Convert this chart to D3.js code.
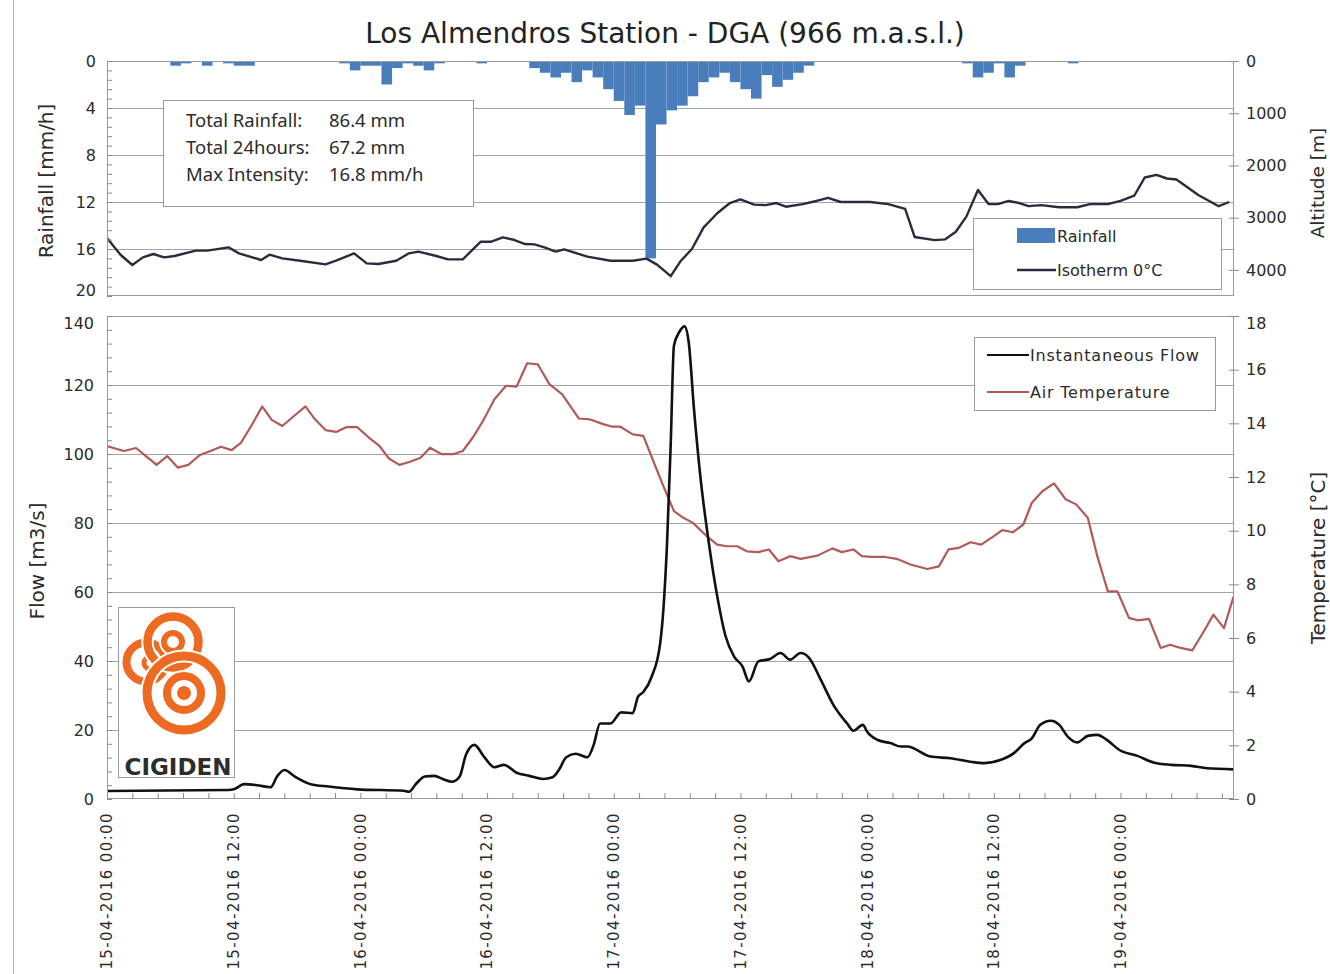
<!DOCTYPE html>
<html>
<head>
<meta charset="utf-8">
<script src="https://cdn.jsdelivr.net/npm/d3@7"></script>
<style>
  html, body { margin: 0; padding: 0; background: #fff; }
  svg { display: block; font-family: "DejaVu Sans", Verdana, sans-serif; }
</style>
</head>
<body>
<svg id="chart" width="1330" height="974"></svg>
<script>
// ---- time base: hours counted from 15-04-2016 00:00 ----
const startTime = new Date(2016, 3, 15, 0, 0);
const endHour = 106.75;

// ---- hourly rainfall [mm/h] ----
const rainHours  = [6, 7, 9, 11, 12, 13,
                    22, 23, 24, 25, 26, 27, 28, 29, 30, 31,
                    35,
                    40, 41, 42, 43, 44, 45, 46, 47, 48, 49, 50, 51, 52, 53,
                    54, 55, 56, 57, 58, 59, 60, 61, 62, 63, 64, 65, 66,
                    81, 82, 83, 84, 85, 86, 91];
const rainValues = [0.4, 0.2, 0.4, 0.2, 0.4, 0.4,
                    0.2, 0.8, 0.4, 0.4, 2.0, 0.6, 0.2, 0.4, 0.8, 0.2,
                    0.2,
                    0.6, 1.0, 1.4, 1.0, 1.8, 0.8, 1.4, 2.4, 3.4, 4.6, 3.8, 16.8, 5.4, 4.2,
                    3.8, 3.0, 1.8, 1.4, 1.0, 1.8, 2.4, 3.2, 1.2, 2.2, 1.6, 1.0, 0.4,
                    0.2, 1.4, 1.0, 0.2, 1.4, 0.4, 0.2];

// ---- 0 °C isotherm altitude [m] ----
const isoHours = [0, 1.3, 2.4, 3.4, 4.4, 5.4, 6.4, 8.4, 9.5, 11.5, 12.5, 14.6, 15.4, 16.6, 18.3,
                  20.7, 21.7, 23.4, 24.6, 25.7, 27.4, 28.6, 29.5, 31.2, 32.3, 33.7, 35.4, 36.4,
                  37.5, 38.6, 39.6, 40.5, 41.5, 42.5, 43.3, 45.5, 47.7, 49.8, 51.1, 52.1, 53.4,
                  54.3, 55.4, 56.5, 57.8, 59, 60, 61.3, 62.4, 63.4, 64.3, 65.9, 67.2, 68.3, 69.5,
                  72.3, 74, 75.6, 76.5, 78.4, 79.4, 80.4, 81.4, 82.5, 83.5, 84.4, 85.4, 86.4,
                  87.3, 88.5, 90.2, 91.9, 93.1, 94.8, 96, 97.3, 98.3, 99.4, 100.4, 101.3, 103.4,
                  104.4, 105.3, 106.3];
const isoAltitude = [3390, 3715, 3907, 3760, 3696, 3760, 3734, 3632, 3632, 3568, 3683, 3811, 3709, 3779, 3824,
                     3894, 3824, 3683, 3875, 3888, 3824, 3683, 3651, 3734, 3798, 3798, 3460, 3460,
                     3377, 3428, 3505, 3511, 3575, 3651, 3606, 3747, 3824, 3824, 3785, 3900, 4120,
                     3840, 3600, 3190, 2915, 2720, 2650, 2750, 2760, 2720, 2790, 2740, 2680, 2620, 2700,
                     2700, 2740, 2830, 3370, 3430, 3415, 3270, 2980, 2470, 2740, 2740, 2680, 2720,
                     2780, 2760, 2800, 2800, 2740, 2740, 2680, 2580, 2230, 2180, 2250, 2270, 2570,
                     2680, 2780, 2700];

// ---- instantaneous flow [m3/s] ----
const flowHours = [0, 11.5, 12.0, 13.0, 14.2, 15.5, 16.1, 16.8, 17.8, 19.3, 21.0, 23.7, 28.1, 28.6,
                   29.3, 30.1, 31.0, 31.8, 32.7, 33.4, 34.0, 34.8, 35.7, 36.7, 37.6, 38.8, 40.0,
                   41.3, 42.2, 42.8, 43.5, 44.4, 45.5, 46.1, 46.7, 47.7, 48.7, 49.8, 50.3, 50.8,
                   51.6, 52.4, 52.7, 53.05, 53.4, 53.7, 54.2, 54.7, 55.1, 55.6, 56.2, 57.0, 57.8,
                   58.6, 59.4, 60.2, 60.8, 61.7, 62.8, 63.8, 64.7, 65.7, 66.5, 67.6, 68.8, 70.1,
                   70.7, 71.6, 72.0, 73.0, 74.2, 75.2, 75.8, 78.0, 79.9, 81.8, 83.1, 84.6, 85.9,
                   86.9, 87.6, 88.4, 89.4, 90.2, 91.0, 91.9, 92.9, 93.8, 94.8, 95.9, 97.6, 99.2,
                   100.8, 102.7, 104.2, 106.7];
const flowValues = [2.3, 2.6, 2.8, 4.3, 4.0, 3.4, 6.5, 8.4, 6.5, 4.3, 3.6, 2.8, 2.4, 2.1,
                    4.5, 6.5, 6.7, 5.8, 5.0, 6.5, 12.8, 15.7, 12.3, 9.2, 9.9, 7.6, 6.7,
                    5.8, 6.3, 8.4, 12.1, 13.1, 12.1, 15.7, 21.9, 21.9, 25.1, 24.9, 29.7, 31.0,
                    35.5, 45.2, 54.9, 74.3, 103.3, 131.4, 135.3, 137.0, 132.4, 113.0, 93.6, 74.3, 58.8,
                    47.1, 41.3, 38.4, 34.1, 39.9, 40.6, 42.3, 40.4, 42.3, 40.9, 34.6, 27.3, 21.9,
                    19.8, 21.5, 19.5, 17.1, 16.2, 15.2, 15.2, 12.3, 11.8, 10.8, 10.4, 11.3, 13.3,
                    16.2, 17.6, 21.5, 22.7, 21.5, 18.1, 16.4, 18.3, 18.6, 16.9, 14.2, 12.5, 10.5,
                    9.9, 9.6, 8.9, 8.6];

// ---- air temperature [°C] ----
const tempHours = [0, 1.6, 2.75, 3.75, 4.7, 5.7, 6.7, 7.7, 8.8, 9.8, 10.8, 11.8, 12.7, 13.7, 14.7,
                   15.6, 16.6, 17.8, 18.8, 19.7, 20.7, 21.7, 22.7, 23.7, 24.8, 25.8, 26.7, 27.7,
                   28.7, 29.7, 30.6, 31.7, 32.8, 33.7, 34.7, 35.7, 36.7, 37.8, 38.8, 39.8, 40.8,
                   41.9, 43.1, 44.7, 45.7, 47.0, 47.8, 48.6, 49.8, 50.8, 51.8, 52.7, 53.7, 54.6,
                   55.5, 56.8, 57.8, 58.7, 59.7, 60.6, 61.7, 62.7, 63.6, 64.7, 65.7, 67.3, 68.7,
                   69.6, 70.7, 71.5, 72.4, 73.7, 74.8, 76.1, 77.7, 78.8, 79.7, 80.7, 81.8, 82.8,
                   83.9, 84.8, 85.8, 86.8, 87.6, 88.6, 89.7, 90.8, 91.8, 92.9, 93.8, 94.8, 95.7,
                   96.8, 97.6, 98.7, 99.8, 100.7, 101.7, 102.8, 103.9, 104.8, 105.8, 106.7];
const tempValues = [13.15, 12.97, 13.08, 12.76, 12.45, 12.78, 12.35, 12.45, 12.82, 12.97, 13.13, 13.0, 13.28, 13.93, 14.63,
                    14.13, 13.9, 14.3, 14.63, 14.15, 13.75, 13.68, 13.86, 13.86, 13.47, 13.16, 12.69, 12.45,
                    12.57, 12.72, 13.09, 12.85, 12.85, 12.97, 13.5, 14.15, 14.9, 15.4, 15.37, 16.24, 16.2,
                    15.46, 15.09, 14.18, 14.15, 13.97, 13.88, 13.88, 13.59, 13.53, 12.54, 11.66, 10.73, 10.48,
                    10.29, 9.8, 9.48, 9.42, 9.42, 9.23, 9.2, 9.3, 8.86, 9.05, 8.95, 9.07, 9.34,
                    9.2, 9.3, 9.05, 9.02, 9.02, 8.95, 8.74, 8.57, 8.67, 9.3, 9.36, 9.57, 9.48,
                    9.77, 10.02, 9.94, 10.23, 11.04, 11.47, 11.76, 11.17, 10.98, 10.48, 9.05, 7.74, 7.74,
                    6.75, 6.66, 6.71, 5.63, 5.75, 5.63, 5.54, 6.25, 6.87, 6.37, 7.53];

// ---- axis ticks and text ----
const rainTicks = [0, 4, 8, 12, 16, 20];
const altitudeTicks = [0, 1000, 2000, 3000, 4000];
const flowTicks = [0, 20, 40, 60, 80, 100, 120, 140];
const tempTicks = [0, 2, 4, 6, 8, 10, 12, 14, 16, 18];
const dateTickHours = [0, 12, 24, 36, 48, 60, 72, 84, 96];
const summaryLabels = ["Total Rainfall:", "Total 24hours:", "Max Intensity:"];
const summaryValues = ["86.4 mm", "67.2 mm", "16.8 mm/h"];

// ---- drawing ----
const C = {
  bar: "#4a7dbb", iso: "#2a2c3e", flow: "#111111", temp: "#b25a5a",
  grid: "#a3a3a3", frame: "#9a9a9a", text: "#2b2b2b", logo: "#ec6a22"
};
const hourToDate = h => new Date(startTime.getTime() + h * 3600e3);

const svg = d3.select("#chart");
const L = 107, R = 1234;
const top1 = 61, bot1 = 296, top2 = 316, bot2 = 799;

const x = d3.scaleTime().domain([startTime, hourToDate(endHour)]).range([L, R]);
const yRain = d3.scaleLinear().domain([0, 20]).range([top1, bot1]);
const yAlt = d3.scaleLinear().domain([0, 4500]).range([top1, bot1]);
const yFlow = d3.scaleLinear().domain([0, 140]).range([bot2, top2]);
const yTemp = d3.scaleLinear().domain([0, 18]).range([bot2, top2]);

// outer frame edge
svg.append("line").attr("x1", 13.5).attr("x2", 13.5).attr("y1", 0).attr("y2", 974)
  .attr("stroke", "#b0b0b0");

// title
svg.append("text").attr("x", 665).attr("y", 43).attr("text-anchor", "middle")
  .attr("font-size", 28).attr("fill", "#222")
  .text("Los Almendros Station - DGA (966 m.a.s.l.)");

const defs = svg.append("defs");
defs.append("clipPath").attr("id", "clipTop").append("rect")
  .attr("x", L).attr("y", top1).attr("width", R - L).attr("height", bot1 - top1);
defs.append("clipPath").attr("id", "clipBot").append("rect")
  .attr("x", L).attr("y", top2).attr("width", R - L).attr("height", bot2 - top2);

// ===== upper panel: rainfall + isotherm =====
const gTop = svg.append("g");
gTop.selectAll("line.grid").data(rainTicks.slice(1, -1)).join("line")
  .attr("class", "grid").attr("x1", L).attr("x2", R)
  .attr("y1", d => Math.round(yRain(d)) + 0.5).attr("y2", d => Math.round(yRain(d)) + 0.5)
  .attr("stroke", C.grid);

const rain = rainHours.map((h, i) => ({h, v: rainValues[i]}));
gTop.append("g").attr("clip-path", "url(#clipTop)")
  .selectAll("rect").data(rain).join("rect")
  .attr("x", d => x(hourToDate(d.h)))
  .attr("width", d => x(hourToDate(d.h + 1)) - x(hourToDate(d.h)))
  .attr("y", yRain(0))
  .attr("height", d => yRain(d.v) - yRain(0))
  .attr("fill", C.bar);

// summary box
const sb = gTop.append("g");
sb.append("rect").attr("x", 163.5).attr("y", 100.5).attr("width", 310).attr("height", 106)
  .attr("fill", "#fff").attr("stroke", C.frame);
summaryLabels.forEach((t, i) => {
  sb.append("text").attr("x", 186).attr("y", 127 + i * 27).attr("font-size", 18.5)
    .attr("font-family", "'Noto Sans', sans-serif").attr("fill", C.text).text(t);
  sb.append("text").attr("x", 329).attr("y", 127 + i * 27).attr("font-size", 18.5)
    .attr("font-family", "'Noto Sans', sans-serif").attr("fill", C.text).text(summaryValues[i]);
});

const iso = isoHours.map((h, i) => ({h, v: isoAltitude[i]}));
gTop.append("path").datum(iso).attr("clip-path", "url(#clipTop)")
  .attr("fill", "none").attr("stroke", C.iso).attr("stroke-width", 2.4)
  .attr("stroke-linejoin", "round")
  .attr("d", d3.line().x(d => x(hourToDate(d.h))).y(d => yAlt(d.v)));

gTop.append("rect").attr("x", L + 0.5).attr("y", top1 + 0.5).attr("width", R - L - 1)
  .attr("height", bot1 - top1 - 1).attr("fill", "none").attr("stroke", C.frame);

// ===== lower panel: flow + temperature =====
const gBot = svg.append("g");
gBot.selectAll("line.grid").data(flowTicks.slice(1, -1)).join("line")
  .attr("class", "grid").attr("x1", L).attr("x2", R)
  .attr("y1", d => Math.round(yFlow(d)) + 0.5).attr("y2", d => Math.round(yFlow(d)) + 0.5)
  .attr("stroke", C.grid);

const temp = tempHours.map((h, i) => ({h, v: tempValues[i]}));
gBot.append("path").datum(temp).attr("clip-path", "url(#clipBot)")
  .attr("fill", "none").attr("stroke", C.temp).attr("stroke-width", 2.2)
  .attr("stroke-linejoin", "round")
  .attr("d", d3.line().x(d => x(hourToDate(d.h))).y(d => yTemp(d.v)));

const flow = flowHours.map((h, i) => ({h, v: flowValues[i]}));
gBot.append("path").datum(flow).attr("clip-path", "url(#clipBot)")
  .attr("fill", "none").attr("stroke", C.flow).attr("stroke-width", 2.6)
  .attr("stroke-linejoin", "round")
  .attr("d", d3.line().curve(d3.curveMonotoneX).x(d => x(hourToDate(d.h))).y(d => yFlow(d.v)));

gBot.append("rect").attr("x", L + 0.5).attr("y", top2 + 0.5).attr("width", R - L - 1)
  .attr("height", bot2 - top2 - 1).attr("fill", "none").attr("stroke", C.frame);

// ===== axes =====
function styleAxis(g) {
  g.select(".domain").remove();
  g.selectAll(".tick line").attr("stroke", "#8a8a8a");
  g.selectAll(".tick text").attr("fill", C.text).attr("font-size", 16)
    .attr("font-family", "'DejaVu Sans', sans-serif");
}

// left axes with inner minor ticks
const leftTop = svg.append("g").attr("transform", `translate(${L},0)`)
  .call(d3.axisLeft(yRain).tickValues(rainTicks).tickSize(0).tickPadding(11))
  .call(styleAxis);
leftTop.selectAll(".tick text").attr("dy", d => d === 20 ? "-0.05em" : "0.32em");
svg.append("g").attr("transform", `translate(${L},0)`)
  .call(d3.axisRight(yRain).tickValues(d3.range(0, 20.01, 0.8)).tickSize(5).tickFormat(""))
  .call(styleAxis);

const leftBot = svg.append("g").attr("transform", `translate(${L},0)`)
  .call(d3.axisLeft(yFlow).tickValues(flowTicks).tickSize(0).tickPadding(13))
  .call(styleAxis);
leftBot.selectAll(".tick text").attr("dy", d => d === 140 ? "0.75em" : "0.32em");
svg.append("g").attr("transform", `translate(${L},0)`)
  .call(d3.axisRight(yFlow).tickValues(d3.range(0, 140.01, 4)).tickSize(5).tickFormat(""))
  .call(styleAxis);

// right axes with crossing major ticks
function rightAxis(scale, ticks, nudgeTop) {
  const g = svg.append("g").attr("transform", `translate(${R},0)`)
    .call(d3.axisRight(scale).tickValues(ticks).tickSize(5).tickPadding(7).tickFormat(d3.format("d")))
    .call(styleAxis);
  g.selectAll(".tick line").attr("x1", -5);
  if (nudgeTop !== undefined) {
    g.selectAll(".tick text").attr("dy", d => d === nudgeTop ? "0.75em" : "0.32em");
  }
  return g;
}
rightAxis(yAlt, altitudeTicks);
rightAxis(yTemp, tempTicks, 18);

// time axis: minor ticks pointing up into the lower panel
svg.append("g").attr("transform", `translate(0,${bot2})`)
  .call(d3.axisTop(x).tickValues(d3.range(0, endHour, 2.4).map(hourToDate)).tickSize(6).tickFormat(""))
  .call(styleAxis);

const fmt = d3.timeFormat("%d-%m-%Y %H:%M");
svg.append("g").selectAll("text").data(dateTickHours).join("text")
  .attr("transform", d => `translate(${x(hourToDate(d))},812) rotate(-90)`)
  .attr("text-anchor", "end").attr("dy", "0.36em")
  .attr("font-size", 15).attr("letter-spacing", 1.4).attr("fill", C.text)
  .text(d => fmt(hourToDate(d)));

// axis titles
function vTitle(t, cx, cy, size) {
  svg.append("text").attr("transform", `translate(${cx},${cy}) rotate(-90)`)
    .attr("text-anchor", "middle").attr("dy", "0.35em")
    .attr("font-size", size).attr("fill", C.text).text(t);
}
vTitle("Rainfall [mm/h]", 46, 181, 20);
vTitle("Flow [m3/s]", 37, 561, 20);
vTitle("Altitude [m]", 1318, 183, 18.5);
vTitle("Temperature [°C]", 1318, 558, 20);

// ===== legends =====
const lg1 = svg.append("g");
lg1.append("rect").attr("x", 973.5).attr("y", 218.5).attr("width", 248).attr("height", 71)
  .attr("fill", "#fff").attr("stroke", C.frame);
lg1.append("rect").attr("x", 1017).attr("y", 228).attr("width", 38).attr("height", 15).attr("fill", C.bar);
lg1.append("text").attr("x", 1057).attr("y", 242).attr("font-size", 16).attr("fill", C.text).text("Rainfall");
lg1.append("line").attr("x1", 1017).attr("x2", 1056).attr("y1", 270).attr("y2", 270)
  .attr("stroke", C.iso).attr("stroke-width", 2.4);
lg1.append("text").attr("x", 1057).attr("y", 276).attr("font-size", 16).attr("fill", C.text).text("Isotherm 0°C");

const lg2 = svg.append("g");
lg2.append("rect").attr("x", 974.5).attr("y", 337.5).attr("width", 241).attr("height", 73)
  .attr("fill", "#fff").attr("stroke", C.frame);
[["Instantaneous Flow", C.flow, 355], ["Air Temperature", C.temp, 392]].forEach(([t, c, yy]) => {
  lg2.append("line").attr("x1", 987).attr("x2", 1029).attr("y1", yy).attr("y2", yy)
    .attr("stroke", c).attr("stroke-width", 2.2);
  lg2.append("text").attr("x", 1030).attr("y", yy + 6).attr("font-size", 16)
    .attr("letter-spacing", 0.8).attr("fill", C.text).text(t);
});

// ===== CIGIDEN logo =====
const logo = svg.append("g");
logo.append("rect").attr("x", 118.5).attr("y", 607.5).attr("width", 116).attr("height", 170)
  .attr("fill", "#fff").attr("stroke", C.frame);
const rings = [
  {cx: 146, cy: 662, r: 19.5, w: 8},
  {cx: 150, cy: 663, r: 6, w: 5},
  {cx: 173, cy: 642, r: 25.5, w: 8.5},
  {cx: 173, cy: 642, r: 9, w: 6},
  {cx: 184, cy: 693, r: 37, w: 9},
  {cx: 184, cy: 693, r: 17, w: 8},
];
rings.forEach(c => {
  logo.append("circle").attr("cx", c.cx).attr("cy", c.cy).attr("r", c.r)
    .attr("fill", "none").attr("stroke", "#fff").attr("stroke-width", c.w + 4);
  logo.append("circle").attr("cx", c.cx).attr("cy", c.cy).attr("r", c.r)
    .attr("fill", "none").attr("stroke", C.logo).attr("stroke-width", c.w);
});
logo.append("circle").attr("cx", 184).attr("cy", 693).attr("r", 7).attr("fill", C.logo);
logo.append("text").attr("x", 178).attr("y", 775).attr("text-anchor", "middle")
  .attr("font-size", 23).attr("font-weight", "bold").attr("fill", "#2d2d2d").text("CIGIDEN");
</script>
</body>
</html>
